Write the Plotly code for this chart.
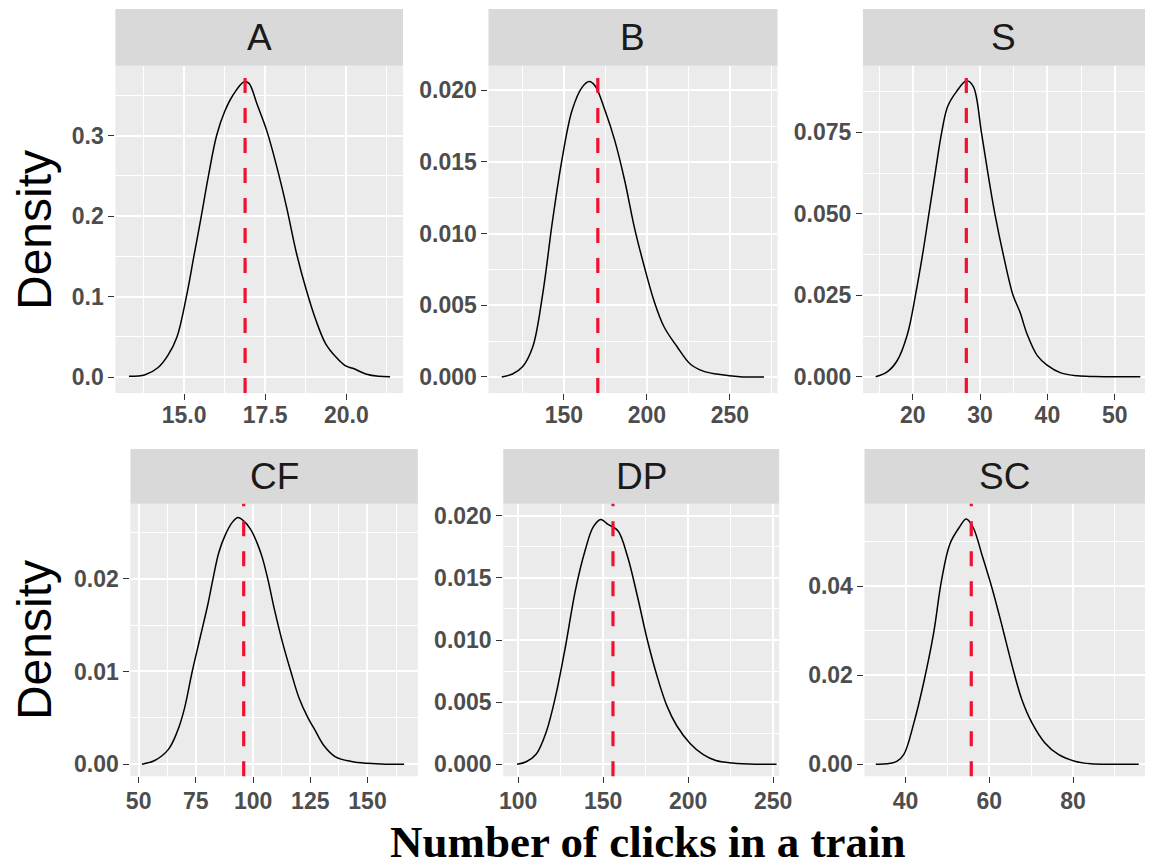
import plotly.graph_objects as go

W, H = 1159, 867

# ---------------- data ----------------
panels = ["A", "B", "S", "CF", "DP", "SC"]

A_x = [13.3, 13.8, 14.2, 14.5, 14.78, 15.07, 15.3, 15.53, 15.75, 16.0, 16.25, 16.5, 16.85, 17.0,
       17.25, 17.55, 17.86, 18.16, 18.47, 18.77, 19.07, 19.37, 19.68, 19.98, 20.2, 20.6, 21.0, 21.35]
A_y = [0.001, 0.003, 0.012, 0.027, 0.05, 0.1, 0.15, 0.2, 0.25, 0.3, 0.33, 0.35, 0.367, 0.365,
       0.339, 0.306, 0.261, 0.211, 0.153, 0.108, 0.07, 0.041, 0.025, 0.014, 0.011, 0.004, 0.001, 0.0005]

B_x = [112.5, 119, 125, 131.2, 137.2, 143.1, 149.0, 154.9, 160.9, 165.2, 168.8, 174.7, 180.6,
       186.6, 192.5, 198.4, 204.3, 210.3, 218.2, 226.1, 234.0, 241.9, 257.7, 270.6]
B_y = [0, 0.0002, 0.0007, 0.0021, 0.0058, 0.0109, 0.0153, 0.0186, 0.0202, 0.0206, 0.0203, 0.0186,
       0.0165, 0.0137, 0.0104, 0.0077, 0.0053, 0.0035, 0.0021, 0.0009, 0.0004, 0.0002, 0.0, 0.0]

S_x = [14.5, 16.2, 17.7, 19.2, 20.4, 21.5, 22.4, 23.3, 24.3, 25.2, 26.5, 28.0, 29.0, 30.2, 31.2,
       32.2, 33.5, 34.9, 35.9, 37.0, 38.5, 40.0, 42.0, 44.5, 47, 50, 53.8]
S_y = [0, 0.0015, 0.005, 0.013, 0.025, 0.038, 0.05, 0.062, 0.075, 0.083, 0.0875, 0.0908, 0.089,
       0.075, 0.062, 0.050, 0.037, 0.025, 0.020, 0.013, 0.0065, 0.0035, 0.0012, 0.0003, 0.0001, 0, 0]

CF_x = [51.4, 57, 63, 67, 70, 73.4, 77, 80.3, 82.5, 85, 88, 91, 93.4, 96, 99, 102, 104, 106.4,
        109.5, 113, 116.5, 120, 124, 127, 131, 136, 143, 150, 158, 166]
CF_y = [0, 0.0004, 0.0016, 0.0036, 0.006, 0.010, 0.0138, 0.0173, 0.020, 0.0228, 0.0248, 0.0261,
        0.0266, 0.0262, 0.0253, 0.0237, 0.0223, 0.020, 0.0165, 0.013, 0.010, 0.0072, 0.005, 0.0037,
        0.002, 0.0008, 0.0003, 0.0001, 0, 0]

DP_x = [99.4, 104.8, 110.6, 116.3, 122.1, 127.9, 133.7, 139.4, 144.2, 148.7, 152.9, 158.7, 164.4,
        170.2, 176.0, 181.7, 187.5, 193.3, 201.0, 208.7, 216.3, 226, 240, 252]
DP_y = [0, 0.0002, 0.0008, 0.0025, 0.0055, 0.0095, 0.014, 0.0172, 0.0191, 0.0197, 0.0193, 0.0188,
        0.0167, 0.0135, 0.010, 0.0071, 0.0047, 0.0031, 0.0017, 0.0008, 0.0003, 0.0001, 0, 0]

SC_x = [32.9, 35.7, 38.0, 39.6, 42.0, 44.3, 46.7, 48.6, 50.6, 52.9, 54.5, 56.1, 58.4, 60.8, 63.1,
        65.5, 67.8, 70.2, 73.3, 76.5, 80.4, 84.3, 90, 95.7]
SC_y = [0, 0.0001, 0.0007, 0.0022, 0.0093, 0.0182, 0.0294, 0.0413, 0.0495, 0.0533, 0.0551, 0.0533,
        0.0466, 0.0391, 0.0309, 0.022, 0.0145, 0.0093, 0.0048, 0.0022, 0.0007, 0.0001, 0, 0]

means = {"A": 16.88, "B": 170.4, "S": 27.96, "CF": 95.9, "DP": 155.8, "SC": 55.7}

x_ticks = {
    "A": [15.0, 17.5, 20.0], "B": [150, 200, 250], "S": [20, 30, 40, 50],
    "CF": [50, 75, 100, 125, 150], "DP": [100, 150, 200, 250], "SC": [40, 60, 80],
}
x_ticktext = {
    "A": ["15.0", "17.5", "20.0"], "B": ["150", "200", "250"], "S": ["20", "30", "40", "50"],
    "CF": ["50", "75", "100", "125", "150"], "DP": ["100", "150", "200", "250"], "SC": ["40", "60", "80"],
}
y_ticks = {
    "A": [0, 0.1, 0.2, 0.3], "B": [0, 0.005, 0.010, 0.015, 0.020], "S": [0, 0.025, 0.050, 0.075],
    "CF": [0, 0.01, 0.02], "DP": [0, 0.005, 0.010, 0.015, 0.020], "SC": [0, 0.02, 0.04],
}
y_ticktext = {
    "A": ["0.0", "0.1", "0.2", "0.3"], "B": ["0.000", "0.005", "0.010", "0.015", "0.020"],
    "S": ["0.000", "0.025", "0.050", "0.075"], "CF": ["0.00", "0.01", "0.02"],
    "DP": ["0.000", "0.005", "0.010", "0.015", "0.020"], "SC": ["0.00", "0.02", "0.04"],
}
curves = {"A": (A_x, A_y), "B": (B_x, B_y), "S": (S_x, S_y),
          "CF": (CF_x, CF_y), "DP": (DP_x, DP_y), "SC": (SC_x, SC_y)}

# ---------------- layout (pixel geometry) ----------------
boxes = {
    "A": (113, 405, 65, 393), "B": (491.7, 785, 65, 393), "S": (871.7, 1158, 65, 393),
    "CF": (128.3, 420, 504, 777), "DP": (506.7, 786.7, 504, 777), "SC": (873.3, 1158, 504, 777),
}
strip_top = {"A": 8, "B": 8, "S": 8, "CF": 449, "DP": 449, "SC": 449}
label_shift = {"A": -5, "B": -5, "S": -5, "CF": -2, "DP": -2, "SC": -2}
x_ranges = {"A": [12.88, 21.75], "B": [104.5, 278.7], "S": [12.6, 54.5],
            "CF": [46.4, 172.0], "DP": [91.3, 253.5], "SC": [30.2, 97.2]}
y_ranges = {"A": [-0.0198, 0.3868], "B": [-0.00113, 0.0217], "S": [-0.005, 0.0954],
            "CF": [-0.00129, 0.02807], "DP": [-0.00096, 0.02096], "SC": [-0.00268, 0.0585]}
x_minor = {"A": (13.75, 1.25), "B": (125, 25), "S": (15, 5), "CF": (62.5, 12.5),
           "DP": (125, 25), "SC": (30, 10)}
y_minor = {"A": (0.05, 0.1), "B": (0.0025, 0.005), "S": (0.0125, 0.025), "CF": (0.005, 0.01),
           "DP": (0.0025, 0.005), "SC": (0.01, 0.02)}

TICKFONT = dict(family="Liberation Sans, Arial", size=23, color="#4D4D4D", weight="bold")

fig = go.Figure()
layout = dict(
    width=W, height=H, margin=dict(l=0, r=0, t=0, b=0),
    paper_bgcolor="white", plot_bgcolor="#EBEBEB", showlegend=False,
    shapes=[], annotations=[],
)

for i, p in enumerate(panels):
    n = "" if i == 0 else str(i + 1)
    xa, ya = "x" + n, "y" + n
    l, r, t, b = boxes[p]
    xs, ys = curves[p]
    fig.add_trace(go.Scatter(x=xs, y=ys, mode="lines", xaxis=xa, yaxis=ya,
                             line=dict(color="black", width=1.5, shape="spline", smoothing=1.0),
                             hoverinfo="skip"))
    common = dict(showline=False, zeroline=False, ticks="outside", ticklen=6, tickwidth=1.2,
                  tickcolor="#333333", tickfont=TICKFONT, showgrid=True, gridcolor="white",
                  gridwidth=1.8, tickmode="array", fixedrange=True)
    layout["xaxis" + n] = dict(
        common, domain=[l / W, r / W], range=x_ranges[p], anchor=ya,
        tickvals=x_ticks[p], ticktext=x_ticktext[p], ticklabelstandoff=label_shift[p],
        minor=dict(tickmode="linear", tick0=x_minor[p][0], dtick=x_minor[p][1], showgrid=True,
                   gridcolor="white", gridwidth=0.9, ticks=""),
    )
    layout["yaxis" + n] = dict(
        common, domain=[1 - b / H, 1 - t / H], range=y_ranges[p], anchor=xa,
        tickvals=y_ticks[p], ticktext=y_ticktext[p],
        minor=dict(tickmode="linear", tick0=y_minor[p][0], dtick=y_minor[p][1], showgrid=True,
                   gridcolor="white", gridwidth=0.9, ticks=""),
    )
    st = strip_top[p]
    layout["shapes"].append(dict(type="rect", xref="paper", yref="paper", x0=l / W, x1=r / W,
                                 y0=1 - t / H, y1=1 - st / H, fillcolor="#D9D9D9",
                                 line=dict(width=0), layer="below"))
    layout["annotations"].append(dict(xref="paper", yref="paper", x=(l + r) / 2 / W,
                                      y=1 - (st + t) / 2 / H, text=p, showarrow=False,
                                      xanchor="center", yanchor="middle",
                                      font=dict(family="Liberation Sans, Arial", size=37,
                                                color="#1A1A1A")))
    layout["shapes"].append(dict(type="line", xref=xa, yref=ya + " domain", x0=means[p],
                                 x1=means[p], y0=0, y1=1,
                                 line=dict(color="#F01030", width=3.2, dash="15px,15px")))

for yc in (230, 641):
    layout["annotations"].append(dict(xref="paper", yref="paper", x=31 / W, y=1 - yc / H,
                                      text="Density", textangle=-90, showarrow=False,
                                      xanchor="center", yanchor="middle",
                                      font=dict(family="Liberation Sans, Arial", size=48,
                                                color="black")))

layout["annotations"].append(dict(xref="paper", yref="paper", x=653 / W, y=1 - 843 / H,
                                  text="Number of clicks in a train", showarrow=False,
                                  xanchor="center", yanchor="middle",
                                  font=dict(family="Liberation Serif, Times New Roman", size=45,
                                            color="black", weight="bold")))

fig.update_layout(**layout)
fig.write_html("out.html")
